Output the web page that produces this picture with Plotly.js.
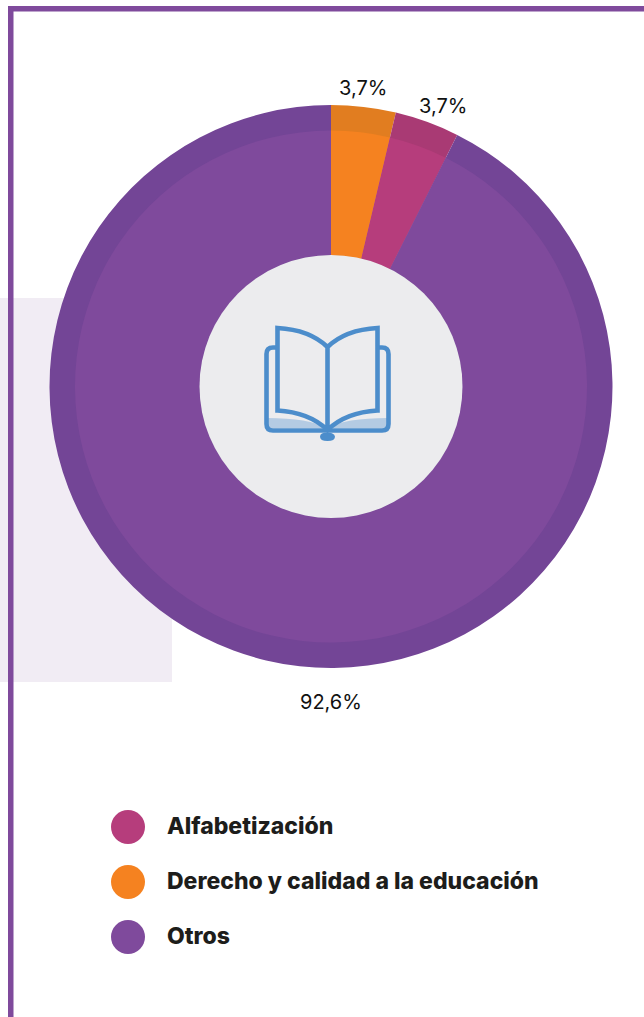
<!DOCTYPE html>
<html>
<head>
<meta charset="utf-8">
<script src="https://cdn.plot.ly/plotly-3.0.1.min.js"></script>
<style>html,body{margin:0;padding:0;background:#fff}#c{width:644px;height:1017px}</style>
</head>
<body>
<div id="c"></div>
<script>
const categories = ['Derecho y calidad a la educación', 'Alfabetización', 'Otros'];
const values = [3.7, 3.7, 92.6];
const legendOrder = ['Alfabetización', 'Derecho y calidad a la educación', 'Otros'];
const innerColors = {'Alfabetización':'#B63D7C','Derecho y calidad a la educación':'#F58220','Otros':'#7F4A9C'};
const outerColors = {'Alfabetización':'#A93A74','Derecho y calidad a la educación':'#E17D20','Otros':'#734596'};

const W = 644, H = 1017;
const X = p => p / W, Y = p => 1 - p / H;
const cx = 331, cy = 386.5, rOuter = 281.5, rInner = 256, rHole = 131.5;
const dom = r => ({x:[X(cx-r), X(cx+r)], y:[Y(cy+r), Y(cy-r)]});

const pieBase = {type:'pie', labels:categories, values:values, sort:false, direction:'clockwise',
  rotation:0, textinfo:'none', hoverinfo:'label+percent', showlegend:false};
const traces = [
  Object.assign({}, pieBase, {domain:dom(rOuter), hole:0,
    marker:{colors:categories.map(c=>outerColors[c]), line:{width:0}}}),
  Object.assign({}, pieBase, {domain:dom(rInner), hole:rHole/rInner,
    marker:{colors:categories.map(c=>innerColors[c]), line:{width:0}}})
];

// pixel-to-paper path builder: tokens are commands or [x,y] pairs
const P = (...t) => t.map(a => Array.isArray(a) ? X(a[0]) + ',' + Y(a[1]) : a).join(' ');
const paper = {xref:'paper', yref:'paper'};
const rect = (x0,y0,x1,y1,fill,layer) => Object.assign({type:'rect',x0:X(x0),x1:X(x1),y0:Y(y0),y1:Y(y1),
  fillcolor:fill,line:{width:0},layer:layer}, paper);
const circ = (x,y,rx,ry,fill,layer,line) => Object.assign({type:'circle',x0:X(x-rx),x1:X(x+rx),y0:Y(y-ry),y1:Y(y+ry),
  fillcolor:fill,line:line||{width:0},layer:layer}, paper);
const BLUE = '#4C8DCB';
const stroke = {color:BLUE, width:4.6};
const path = (d,fill,line) => Object.assign({type:'path',path:d,fillcolor:fill||'rgba(0,0,0,0)',line:line||stroke,layer:'above'}, paper);

const legendY = [827, 882, 937];
const shapes = [
  rect(0,298,172,682,'#F1ECF4','below'),
  rect(8,6,644,11.5,'#7F4A9C','below'),
  rect(8,6,13.5,1017,'#7F4A9C','below'),
  circ(cx,cy,rHole,rHole,'#ECECEE','above'),
  // light band at the foot of the book
  path(P('M',[267,418],'L',[267,428],'L',[388,428],'L',[388,418],'Q',[345,418],[327,428],'Q',[309,418],[267,418],'Z'),'#B4CBE3',{width:0}),
  // cover
  path(P('M',[277,347.5],'L',[273,347.5],'Q',[266.5,347.5],[266.5,354],'L',[266.5,424],'Q',[266.5,430.5],[273,430.5],
         'L',[382,430.5],'Q',[388.5,430.5],[388.5,424],'L',[388.5,354],'Q',[388.5,347.5],[382,347.5],'L',[378,347.5])),
  // pages
  path(P('M',[327.5,347],'C',[314,334],[296,329],[277.5,328],'L',[277.5,410.5],'C',[296,411.5],[314,417],[327.5,430],
         'C',[341,417],[359,411.5],[377.5,410.5],'L',[377.5,328],'C',[359,329],[341,334],[327.5,347],'L',[327.5,430])),
  circ(327.5,436.7,5.2,1.9,'#B4CBE3','above',stroke)
];
legendOrder.forEach((c,i)=>shapes.push(circ(128,legendY[i],17,17,innerColors[c],'above')));

const pct = v => v.toFixed(1).replace('.',',') + '%';
const labelPos = [[363,88],[443,106],[331,702]];
const annotations = values.map((v,i)=>({text:pct(v), x:X(labelPos[i][0]), y:Y(labelPos[i][1]), xref:'paper', yref:'paper',
  xanchor:'center', yanchor:'middle', showarrow:false, font:{family:'Inter, Lato, sans-serif', size:20, color:'#111111', weight:400}}));
legendOrder.forEach((c,i)=>annotations.push({text:c, x:X(164.5), y:Y(legendY[i]-1), xref:'paper', yref:'paper',
  xanchor:'left', yanchor:'middle', showarrow:false, font:{family:'Inter, Lato, sans-serif', size:23, color:'#1D1D1B', weight:800}}));

Plotly.newPlot('c', traces, {
  width:W, height:H, margin:{l:0,r:0,t:0,b:0,pad:0}, paper_bgcolor:'#FFFFFF', plot_bgcolor:'rgba(0,0,0,0)',
  showlegend:false, separators:',.', shapes:shapes, annotations:annotations
}, {displayModeBar:false, staticPlot:true});
</script>
</body>
</html>
